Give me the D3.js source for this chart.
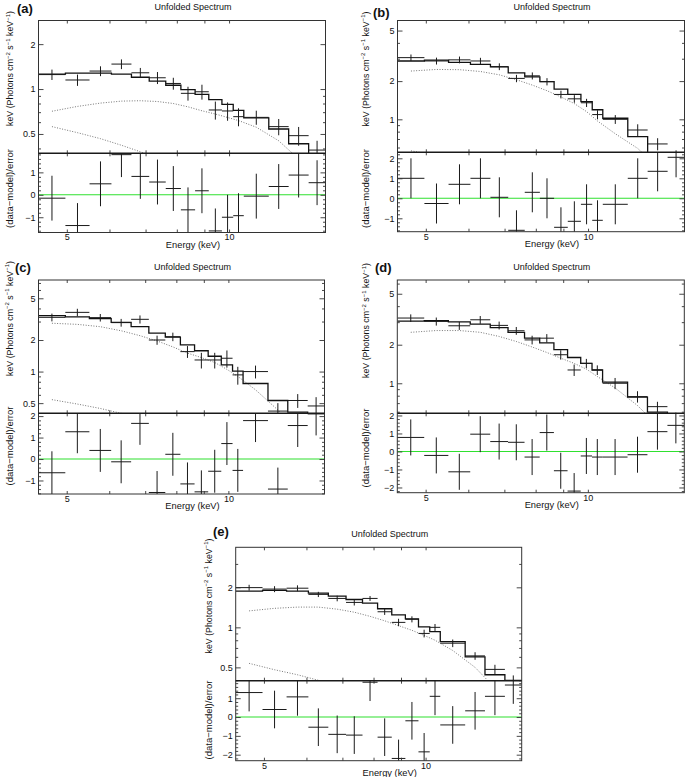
<!DOCTYPE html>
<html><head><meta charset="utf-8">
<script src="https://cdn.jsdelivr.net/npm/d3@7"></script>
<style>
body{margin:0;background:#fff}
svg{display:block}
text{font-family:"Liberation Sans",Arial,Helvetica,sans-serif;fill:#111}
</style>
</head><body>
<svg id="chart" width="685" height="777"></svg>
<script>
// ---------- shared energy binning (keV) ----------
const binEdges = [4.43,4.97,5.51,6.05,6.59,7.11,7.63,8.14,8.65,9.17,9.70,10.18,10.65,11.85,12.9,14.05,15.1];
const energyRange = [4.43, 15.1];
const energyTicks = [5,6,7,8,9,10];
const energyTickLabels = [5,10];
const titleText = "Unfolded Spectrum";
const xLabelText = "Energy (keV)";
const residLabelText = "(data\u2212model)/error";

// ---------- panel (a) ----------
const fluxA  = [1.25,1.15,1.32,1.47,1.285,1.19,1.09,0.936,0.959,0.724,0.713,0.653,0.646,0.56,0.487,0.39];
const errA   = [0.1,0.1,0.1,0.11,0.1,0.11,0.1,0.1,0.11,0.1,0.1,0.09,0.07,0.07,0.07,0.06];
const modelA = [1.26,1.28,1.28,1.26,1.2,1.13,1.06,0.99,0.92,0.85,0.79,0.72,0.64,0.54,0.43,0.35];
const residA = [-0.15,-1.37,0.49,1.79,0.82,0.57,0.28,-0.67,0.18,-1.61,-1.0,-0.93,-0.06,0.37,0.88,0.54];
const compA1 = [0.71,0.765,0.805,0.83,0.835,0.825,0.80,0.76,0.715,0.68,0.645,0.615,0.555,0.45,0.34,0.24];
const compA2 = [0.56,0.51,0.465,0.42,0.38,0.34,0.30,0.27,0.24,0.21,0.19,0.17,0.14,0.11,0.08,0.06];
const fluxDomainA = [0.371, 2.88];
const residDomainA = [-1.68, 1.85];
const fluxTicksA = [0.5,1,2];
const residTicksA = [-1,0,1];

// ---------- panel (b) ----------
const fluxB  = [3.06,2.88,2.94,2.88,2.60,2.10,2.20,1.98,1.57,1.45,1.35,1.09,1.0,0.824,0.64,0.50];
const errB   = [0.18,0.18,0.18,0.17,0.16,0.14,0.14,0.13,0.11,0.1,0.1,0.09,0.08,0.09,0.07,0.07];
const modelB = [2.88,2.93,2.81,2.71,2.59,2.32,2.16,1.98,1.73,1.57,1.38,1.19,1.02,0.73,0.545,0.39];
const residB = [1.0,-0.26,0.7,1.0,0.05,-1.6,0.3,0.0,-1.45,-1.15,-0.3,-1.1,-0.3,1.0,1.35,2.05];
const compB1 = [2.40,2.47,2.46,2.38,2.24,2.05,1.86,1.68,1.50,1.33,1.15,0.97,0.77,0.59,0.42,0.30];
const compB2 = [0.565,0.52,0.47,0.43,0.39,0.35,0.31,0.28,0.25,0.22,0.2,0.18,0.15,0.12,0.09,0.07];
const fluxDomainB = [0.55, 6.0];
const residDomainB = [-1.67, 2.3];
const fluxTicksB = [1,2,5];
const residTicksB = [-1,0,1,2];

// ---------- panel (c) ----------
const fluxC  = [3.29,3.67,3.27,2.93,3.15,2.0,2.15,1.55,1.29,1.29,1.34,0.93,1.0,0.42,0.53,0.47];
const errC   = [0.28,0.3,0.27,0.25,0.28,0.2,0.2,0.2,0.22,0.22,0.25,0.18,0.14,0.08,0.08,0.1];
const modelC = [3.42,3.32,3.2,2.95,2.68,2.33,2.13,1.8,1.58,1.4,1.16,1.01,0.77,0.53,0.41,0.3];
const residC = [-0.64,1.27,0.4,-0.13,1.66,-1.56,0.22,-1.16,-1.53,-0.57,0.72,-0.53,1.79,-1.4,1.56,2.1];
const compC1 = [2.89,2.82,2.68,2.45,2.2,1.96,1.72,1.50,1.36,1.22,1.05,0.90,0.67,0.43,0.26,0.16];
const compC2 = [0.54,0.49,0.445,0.40,0.36,0.32,0.29,0.26,0.23,0.2,0.18,0.16,0.13,0.1,0.08,0.06];
const fluxDomainC = [0.40, 7.47];
const residDomainC = [-1.63, 2.13];
const fluxTicksC = [0.5,1,2,5];
const residTicksC = [-1,0,1,2];

// ---------- panel (d) ----------
const fluxD  = [3.23,3.04,2.81,3.13,2.83,2.57,2.18,2.25,1.67,1.27,1.43,1.27,1.0,0.787,0.657,0.54];
const errD   = [0.22,0.22,0.2,0.22,0.2,0.18,0.17,0.17,0.14,0.13,0.12,0.11,0.1,0.08,0.06,0.05];
const modelD = [3.06,3.08,3.01,2.9,2.72,2.5,2.25,2.07,1.83,1.59,1.43,1.27,1.02,0.78,0.595,0.47];
const residD = [0.78,-0.22,-1.13,0.96,0.55,0.51,-0.31,1.05,-1.07,-2.2,-0.25,-0.31,-0.31,-0.18,1.1,1.45];
const compD1 = [2.50,2.58,2.58,2.50,2.32,2.12,1.92,1.74,1.57,1.43,1.29,1.13,0.92,0.67,0.47,0.33];
const compD2 = [0.55,0.5,0.45,0.41,0.37,0.33,0.3,0.27,0.24,0.21,0.19,0.17,0.14,0.11,0.08,0.06];
const fluxDomainD = [0.583, 6.4];
const residDomainD = [-2.29, 2.12];
const fluxTicksD = [1,2,5];
const residTicksD = [-2,-1,0,1,2];

// ---------- panel (e) ----------
const fluxE  = [1.99,1.94,1.97,1.77,1.65,1.54,1.65,1.31,1.09,1.15,0.90,1.0,0.76,0.61,0.483,0.40];
const errE   = [0.1,0.1,0.1,0.08,0.08,0.08,0.07,0.07,0.07,0.06,0.06,0.06,0.05,0.04,0.04,0.035];
const modelE = [1.87,1.90,1.87,1.81,1.72,1.62,1.52,1.38,1.24,1.16,1.01,0.93,0.78,0.60,0.44,0.34];
const residE = [1.3,0.4,1.07,-0.54,-0.92,-0.96,1.85,-1.07,-2.2,-0.2,-1.85,1.1,-0.42,0.33,1.1,1.7];
const compE1 = [1.33,1.39,1.42,1.42,1.37,1.30,1.21,1.12,1.03,0.95,0.87,0.80,0.67,0.50,0.35,0.24];
const compE2 = [0.536,0.48,0.44,0.40,0.36,0.33,0.30,0.27,0.24,0.22,0.20,0.18,0.15,0.12,0.09,0.07];
const fluxDomainE = [0.397, 4.0];
const residDomainE = [-2.32, 1.93];
const fluxTicksE = [0.5,1,2];
const residTicksE = [-2,-1,0,1];

const panels = [
  {key:"a", tag:"(a)", flux:fluxA, err:errA, model:modelA, resid:residA, comps:[compA1,compA2], fd:fluxDomainA, rd:residDomainA, ft:fluxTicksA, rt:residTicksA},
  {key:"b", tag:"(b)", flux:fluxB, err:errB, model:modelB, resid:residB, comps:[compB1,compB2], fd:fluxDomainB, rd:residDomainB, ft:fluxTicksB, rt:residTicksB},
  {key:"c", tag:"(c)", flux:fluxC, err:errC, model:modelC, resid:residC, comps:[compC1,compC2], fd:fluxDomainC, rd:residDomainC, ft:fluxTicksC, rt:residTicksC},
  {key:"d", tag:"(d)", flux:fluxD, err:errD, model:modelD, resid:residD, comps:[compD1,compD2], fd:fluxDomainD, rd:residDomainD, ft:fluxTicksD, rt:residTicksD},
  {key:"e", tag:"(e)", flux:fluxE, err:errE, model:modelE, resid:residE, comps:[compE1,compE2], fd:fluxDomainE, rd:residDomainE, ft:fluxTicksE, rt:residTicksE}
];

// ---------- layout (pixel geometry) ----------
const layout = {
  a:{L:38.5, R:325.5, T:20.5, M:153.3, B:232.5, ylx:13,    ylTop:68.5,  ylRes:188.5, tagX:17,  tagY:12.5},
  b:{L:397.5,R:684.5, T:20.5, M:152.3, B:231.7, ylx:368.5, ylTop:69,    ylRes:188.5, tagX:373, tagY:17},
  c:{L:38.5, R:324.5, T:280,  M:413.3, B:494,   ylx:12.7,  ylTop:318.5, ylRes:446,   tagX:15,  tagY:272},
  d:{L:397.3,R:684.3, T:280,  M:413.3, B:492.7, ylx:369,   ylTop:320.5, ylRes:448,   tagX:375, tagY:271.5},
  e:{L:235.7,R:521.7, T:547.3,M:680.7, B:760.7, ylx:211.7, ylTop:596,   ylRes:720,   tagX:213, tagY:535.5}
};

const svg = d3.select("#chart");
const FONT = '"Liberation Sans",Arial,Helvetica,sans-serif';
const INK = "#1a1a1a";

function styleAxis(g, fs){
  g.select(".domain").remove();
  g.selectAll(".tick line").attr("stroke", "#333").attr("stroke-width", 0.9);
  g.selectAll(".tick text").attr("font-family", FONT).attr("font-size", fs).attr("fill", "#111");
}

panels.forEach(p => {
  const L = layout[p.key];
  const g = svg.append("g");
  const x = d3.scaleLog().domain(energyRange).range([L.L, L.R]);
  const y = d3.scaleLog().domain(p.fd).range([L.M, L.T]);
  const yr = d3.scaleLinear().domain(p.rd).range([L.B, L.M]);

  // clip paths
  const topId = "clipTop_" + p.key, resId = "clipRes_" + p.key;
  const defs = g.append("defs");
  defs.append("clipPath").attr("id", topId).append("rect")
    .attr("x", L.L).attr("y", L.T).attr("width", L.R - L.L).attr("height", L.M - L.T);
  defs.append("clipPath").attr("id", resId).append("rect")
    .attr("x", L.L).attr("y", L.M).attr("width", L.R - L.L).attr("height", L.B - L.M);

  const bins = p.flux.map((f, i) => {
    const lo = binEdges[i], hi = binEdges[i+1];
    return {lo, hi, c: Math.sqrt(lo*hi), f, e: p.err[i], m: p.model[i], r: p.resid[i]};
  });

  // ----- top panel content -----
  const top = g.append("g").attr("clip-path", `url(#${topId})`);
  // dotted model components at bin centres
  p.comps.forEach(comp => {
    top.append("path")
      .datum(comp.map((v, i) => [bins[i].c, v]))
      .attr("fill", "none").attr("stroke", "#666").attr("stroke-width", 0.9)
      .attr("stroke-dasharray", "1,1.6")
      .attr("d", d3.line().x(d => x(d[0])).y(d => y(d[1])));
  });
  // model histogram
  const stepPts = bins.map(b => [b.lo, b.m]);
  stepPts.push([binEdges[binEdges.length-1], p.model[p.model.length-1]]);
  top.append("path").datum(stepPts)
    .attr("fill", "none").attr("stroke", "#111").attr("stroke-width", 1.3)
    .attr("d", d3.line().curve(d3.curveStepAfter).x(d => x(d[0])).y(d => y(d[1])));
  // data crosses
  const tc = top.selectAll(".dp").data(bins).join("g");
  tc.append("line").attr("x1", d => x(d.lo)).attr("x2", d => x(d.hi))
    .attr("y1", d => y(d.f)).attr("y2", d => y(d.f)).attr("stroke", INK).attr("stroke-width", 1);
  tc.append("line").attr("x1", d => x(d.c)).attr("x2", d => x(d.c))
    .attr("y1", d => y(Math.max(d.f - d.e, 0.01))).attr("y2", d => y(d.f + d.e))
    .attr("stroke", INK).attr("stroke-width", 1);

  // ----- residual panel content -----
  const res = g.append("g").attr("clip-path", `url(#${resId})`);
  res.append("line").attr("x1", L.L).attr("x2", L.R).attr("y1", yr(0)).attr("y2", yr(0))
    .attr("stroke", "#2fe02f").attr("stroke-width", 1.1);
  const rc = res.selectAll(".rp").data(bins).join("g");
  rc.append("line").attr("x1", d => x(d.lo)).attr("x2", d => x(d.hi))
    .attr("y1", d => yr(d.r)).attr("y2", d => yr(d.r)).attr("stroke", INK).attr("stroke-width", 1);
  rc.append("line").attr("x1", d => x(d.c)).attr("x2", d => x(d.c))
    .attr("y1", d => yr(d.r - 1)).attr("y2", d => yr(d.r + 1)).attr("stroke", INK).attr("stroke-width", 1);

  // ----- axes (ticks inward on all sides) -----
  const fmtX = d => energyTickLabels.includes(d) ? String(d) : "";
  // x ticks: bottom of residual (labelled), divider both sides, top of flux panel
  const xAxisB = d3.axisBottom(x).tickValues(energyTicks).tickSize(-3).tickPadding(1.5).tickFormat(fmtX);
  styleAxis(g.append("g").attr("transform", `translate(0,${L.B})`).call(xAxisB), 9);
  const xNoLab = d => "";
  styleAxis(g.append("g").attr("transform", `translate(0,${L.M})`).call(d3.axisBottom(x).tickValues(energyTicks).tickSize(-3).tickFormat(xNoLab)), 9);
  styleAxis(g.append("g").attr("transform", `translate(0,${L.M})`).call(d3.axisTop(x).tickValues(energyTicks).tickSize(-3).tickFormat(xNoLab)), 9);
  styleAxis(g.append("g").attr("transform", `translate(0,${L.T})`).call(d3.axisTop(x).tickValues(energyTicks).tickSize(-3).tickFormat(xNoLab)), 9);

  // flux y ticks
  const minorVals = [0.3,0.4,0.5,0.6,0.7,0.8,0.9,1,2,3,4,5,6,7,8,9]
    .filter(v => v > p.fd[0] && v < p.fd[1] && !p.ft.includes(v));
  const fmtY = d => String(d);
  styleAxis(g.append("g").attr("transform", `translate(${L.L},0)`)
    .call(d3.axisLeft(y).tickValues(p.ft).tickSize(-5).tickPadding(3).tickFormat(fmtY)), 9);
  styleAxis(g.append("g").attr("transform", `translate(${L.L},0)`)
    .call(d3.axisLeft(y).tickValues(minorVals).tickSize(-2.5).tickFormat(() => "")), 9);
  styleAxis(g.append("g").attr("transform", `translate(${L.R},0)`)
    .call(d3.axisRight(y).tickValues(p.ft).tickSize(-5).tickFormat(() => "")), 9);
  styleAxis(g.append("g").attr("transform", `translate(${L.R},0)`)
    .call(d3.axisRight(y).tickValues(minorVals).tickSize(-2.5).tickFormat(() => "")), 9);

  // residual y ticks
  const rMajor = d3.range(Math.ceil(p.rd[0]), Math.floor(p.rd[1]) + 1);
  const rMinor = d3.range(Math.ceil(p.rd[0] * 5), Math.floor(p.rd[1] * 5) + 1)
    .map(v => v / 5).filter(v => Math.abs(v - Math.round(v)) > 1e-6);
  const fmtR = d => p.rt.includes(d) ? (d < 0 ? "\u2212" + Math.abs(d) : String(d)) : "";
  styleAxis(g.append("g").attr("transform", `translate(${L.L},0)`)
    .call(d3.axisLeft(yr).tickValues(rMajor).tickSize(-5).tickPadding(3).tickFormat(fmtR)), 9);
  styleAxis(g.append("g").attr("transform", `translate(${L.L},0)`)
    .call(d3.axisLeft(yr).tickValues(rMinor).tickSize(-2.5).tickFormat(() => "")), 9);
  styleAxis(g.append("g").attr("transform", `translate(${L.R},0)`)
    .call(d3.axisRight(yr).tickValues(rMajor).tickSize(-5).tickFormat(() => "")), 9);
  styleAxis(g.append("g").attr("transform", `translate(${L.R},0)`)
    .call(d3.axisRight(yr).tickValues(rMinor).tickSize(-2.5).tickFormat(() => "")), 9);

  // frames
  g.append("rect").attr("x", L.L).attr("y", L.T).attr("width", L.R - L.L).attr("height", L.B - L.T)
    .attr("fill", "none").attr("stroke", "#333").attr("stroke-width", 1);
  g.append("line").attr("x1", L.L).attr("x2", L.R).attr("y1", L.M).attr("y2", L.M)
    .attr("stroke", "#1a1a1a").attr("stroke-width", 1.5);

  // texts
  const cx = (L.L + L.R) / 2 + 11;
  g.append("text").attr("x", cx).attr("y", L.T - 10.3).attr("text-anchor", "middle")
    .attr("font-size", 9).text(titleText);
  g.append("text").attr("x", cx).attr("y", L.B + 15).attr("text-anchor", "middle")
    .attr("font-size", 9.3).text(xLabelText);
  g.append("text").attr("x", L.tagX).attr("y", L.tagY)
    .attr("font-family", '"Liberation Serif","Times New Roman",serif').attr("font-weight", "bold")
    .attr("font-size", 13).text(p.tag);

  const yl = g.append("text").attr("transform", `translate(${L.ylx},${L.ylTop}) rotate(-90)`)
    .attr("text-anchor", "middle").attr("font-size", 8.8);
  yl.append("tspan").text("keV (Photons cm");
  yl.append("tspan").attr("font-size", 6).attr("dy", -3.5).text("\u22122");
  yl.append("tspan").attr("dy", 3.5).text(" s");
  yl.append("tspan").attr("font-size", 6).attr("dy", -3.5).text("\u22121");
  yl.append("tspan").attr("dy", 3.5).text(" keV");
  yl.append("tspan").attr("font-size", 6).attr("dy", -3.5).text("\u22121");
  yl.append("tspan").attr("dy", 3.5).text(")");

  g.append("text").attr("transform", `translate(${L.ylx},${L.ylRes}) rotate(-90)`)
    .attr("text-anchor", "middle").attr("font-size", 9.5).text(residLabelText);
});
</script>
</body></html>
